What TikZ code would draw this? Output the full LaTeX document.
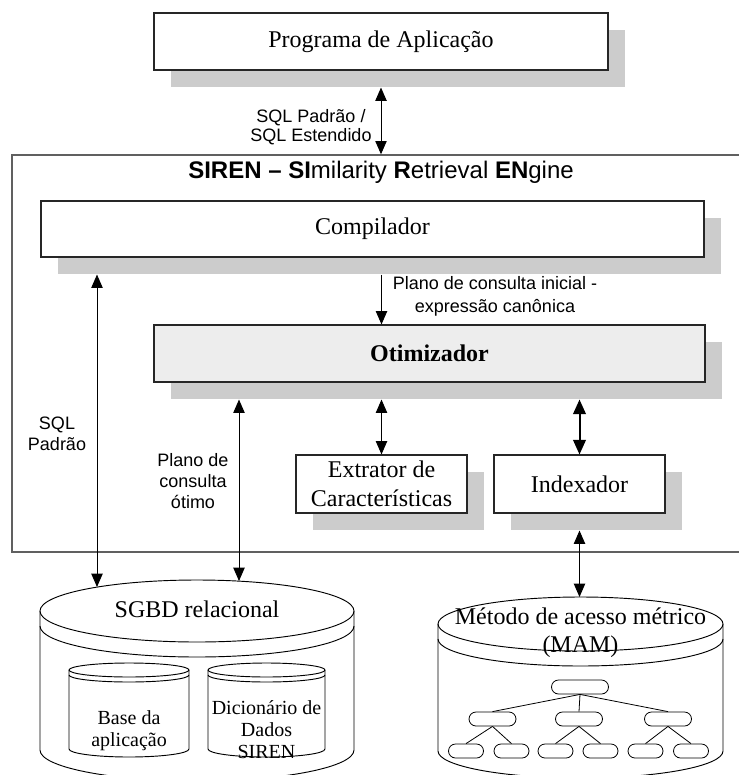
\documentclass[tikz,border=0pt]{standalone}
\usepackage{fontspec}
\setmainfont{Liberation Serif}
\setsansfont{Liberation Sans}
\usetikzlibrary{arrows.meta,fit,shadows}
\definecolor{boxshadow}{HTML}{CCCCCC}
\definecolor{optfill}{HTML}{EDEDED}
\definecolor{framegray}{HTML}{606060}
\begin{document}
\begin{tikzpicture}[x=0.75pt,y=-0.75pt,
  module/.style={draw=black!85, line width=0.8pt, fill=white, inner sep=0pt, align=center,
    font=\fontsize{18}{22}\selectfont,
    general shadow={fill=boxshadow, draw=none, shadow xshift=12.75pt, shadow yshift=-12.75pt}},
  container/.style={draw=framegray, line width=1pt, inner sep=0pt},
  note/.style={font=\sffamily\fontsize{13.5}{15.75}\selectfont, align=center, inner sep=0pt},
  store/.style={draw=black, line width=0.7pt},
  storelabel/.style={align=center, inner sep=0pt},
  dblarrow/.style={line width=0.75pt, {Triangle[length=10pt,width=8.5pt]}-{Triangle[length=10pt,width=8.5pt]}},
  onearrow/.style={line width=0.75pt, -{Triangle[length=10pt,width=8.5pt]}},
  heavyarrow/.style={line width=1.5pt, {Triangle[length=11pt,width=9.5pt]}-{Triangle[length=11pt,width=9.5pt]}},
  treenode/.style={draw=black, line width=0.6pt, rounded corners=5.25pt, minimum height=10.5pt, inner sep=0pt, fill=white},
]
\useasboundingbox (0,0) rectangle (739,775);

% SIREN engine frame (runs past the right margin)
\node[container, fit={(12,155)(780,552)}] (siren) {};
\node[font=\sffamily\fontsize{18}{21}\selectfont, inner sep=0pt] (title) at (381,172)
  {\textbf{SIREN – SI}milarity \textbf{R}etrieval \textbf{EN}gine};

% modules
\node[module, minimum width=340.5pt, minimum height=42.75pt] (prog) at (381,41.5) {Programa de Aplicação};
\node[module, minimum width=497.25pt, minimum height=42pt] (comp) at (372.5,229) {Compilador};
\node[module, fill=optfill, font=\bfseries\fontsize{18}{22}\selectfont,
      minimum width=413.25pt, minimum height=42.75pt] (otim) at (429.5,353.5) {Otimizador};
\node[module, minimum width=128.25pt, minimum height=43.5pt] (ext) at (381.5,484) {Extrator de\\Características};
\node[module, minimum width=128.25pt, minimum height=43.5pt] (idx) at (579.5,484) {Indexador};

% relational DBMS store
\draw[store] (40,611) -- (40,750) arc[start angle=180,end angle=360,x radius=117.75pt,y radius=23.25pt] -- (354,611);
\draw[store] (197,611) ellipse[x radius=117.75pt,y radius=23.25pt];
\draw[store] (40,626) arc[start angle=180,end angle=360,x radius=117.75pt,y radius=23.25pt];
\node[storelabel, font=\fontsize{18}{21}\selectfont] (sgbd) at (197,609) {SGBD relacional};

% application database
\draw[store] (69,670) -- (69,749) arc[start angle=180,end angle=360,x radius=45pt,y radius=6pt] -- (189,670);
\draw[store] (129,670) ellipse[x radius=45pt,y radius=5.25pt];
\draw[store] (69,675) arc[start angle=180,end angle=360,x radius=45pt,y radius=5.25pt];
\node[storelabel, font=\fontsize{15}{16.5}\selectfont] (base) at (129,731) {Base da\\aplicação};

% SIREN data dictionary
\draw[store] (208,670) -- (208,749) arc[start angle=180,end angle=360,x radius=43.875pt,y radius=6pt] -- (325,670);
\draw[store] (266.5,670) ellipse[x radius=43.875pt,y radius=5.25pt];
\draw[store] (208,675) arc[start angle=180,end angle=360,x radius=43.875pt,y radius=5.25pt];
\node[storelabel, font=\fontsize{15}{16.5}\selectfont] (dict) at (266.5,729.5) {Dicionário de\\Dados\\SIREN};

% metric access method store
\draw[store] (438,624) -- (438,751) arc[start angle=180,end angle=360,x radius=106.875pt,y radius=20.25pt] -- (723,624);
\draw[store] (580.5,624) ellipse[x radius=106.875pt,y radius=20.25pt];
\draw[store] (438,639) arc[start angle=180,end angle=360,x radius=106.875pt,y radius=20.25pt];
\node[storelabel, font=\fontsize{18}{21}\selectfont] (mam) at (580.5,633) {Método de acesso métrico\\(MAM)};

% index tree
\node[treenode, minimum width=42.75pt] (root) at (580,687) {};
\node[treenode, minimum width=35.25pt] (ta) at (492.5,719) {};
\node[treenode, minimum width=35.25pt] (tb) at (579,719) {};
\node[treenode, minimum width=35.25pt] (tc) at (668,719) {};
\node[treenode, minimum width=26.25pt] (ta1) at (466,751) {};
\node[treenode, minimum width=26.25pt] (ta2) at (511.5,751) {};
\node[treenode, minimum width=26.25pt] (tb1) at (555.5,751) {};
\node[treenode, minimum width=26.25pt] (tb2) at (600.5,751) {};
\node[treenode, minimum width=26.25pt] (tc1) at (645.5,751) {};
\node[treenode, minimum width=26.25pt] (tc2) at (691,751) {};
\foreach \k in {ta,tb,tc} \draw[line width=0.6pt] (root.south) -- (\k.north);
\foreach \p/\c in {ta/ta1,ta/ta2,tb/tb1,tb/tb2,tc/tc1,tc/tc2} \draw[line width=0.6pt] (\p.south) -- (\c.north);

% connectors
\coordinate (progShadow) at ([yshift=-12.75pt]prog.south);
\coordinate (compShadow) at ([yshift=-12.75pt]comp.south);
\coordinate (otimShadow) at ([yshift=-12.75pt]otim.south);
\coordinate (idxShadow) at ([yshift=-12.75pt]idx.south);
\coordinate (mamTop) at (580.5,597);
\coordinate (sgbdLeft) at (97,587);
\coordinate (sgbdRight) at (239,581);

\draw[dblarrow] (progShadow) -- (progShadow |- siren.north);
\draw[onearrow] (compShadow -| ext.north) -- (ext.north |- otim.north);
\draw[dblarrow] (otimShadow -| ext.north) -- (ext.north);
\draw[heavyarrow] (otimShadow -| idx.north) -- (idx.north);
\draw[dblarrow] (idxShadow) -- (idxShadow |- mamTop);
\draw[dblarrow] (sgbdLeft |- compShadow) -- (sgbdLeft);
\draw[dblarrow] (sgbdRight |- otimShadow) -- (sgbdRight);

% connector labels
\node[note, font=\sffamily\fontsize{13.5}{14.25}\selectfont] (sqlApp) at (311,127.5) {SQL Padrão /\\SQL Estendido};
\node[note, font=\sffamily\fontsize{13.5}{17.25}\selectfont] (initPlan) at (495,296) {Plano de consulta inicial -\\expressão canônica};
\node[note] (sqlStd) at (57,433.5) {SQL\\Padrão};
\node[note] (bestPlan) at (193,481) {Plano de\\consulta\\ótimo};
\end{tikzpicture}
\end{document}
